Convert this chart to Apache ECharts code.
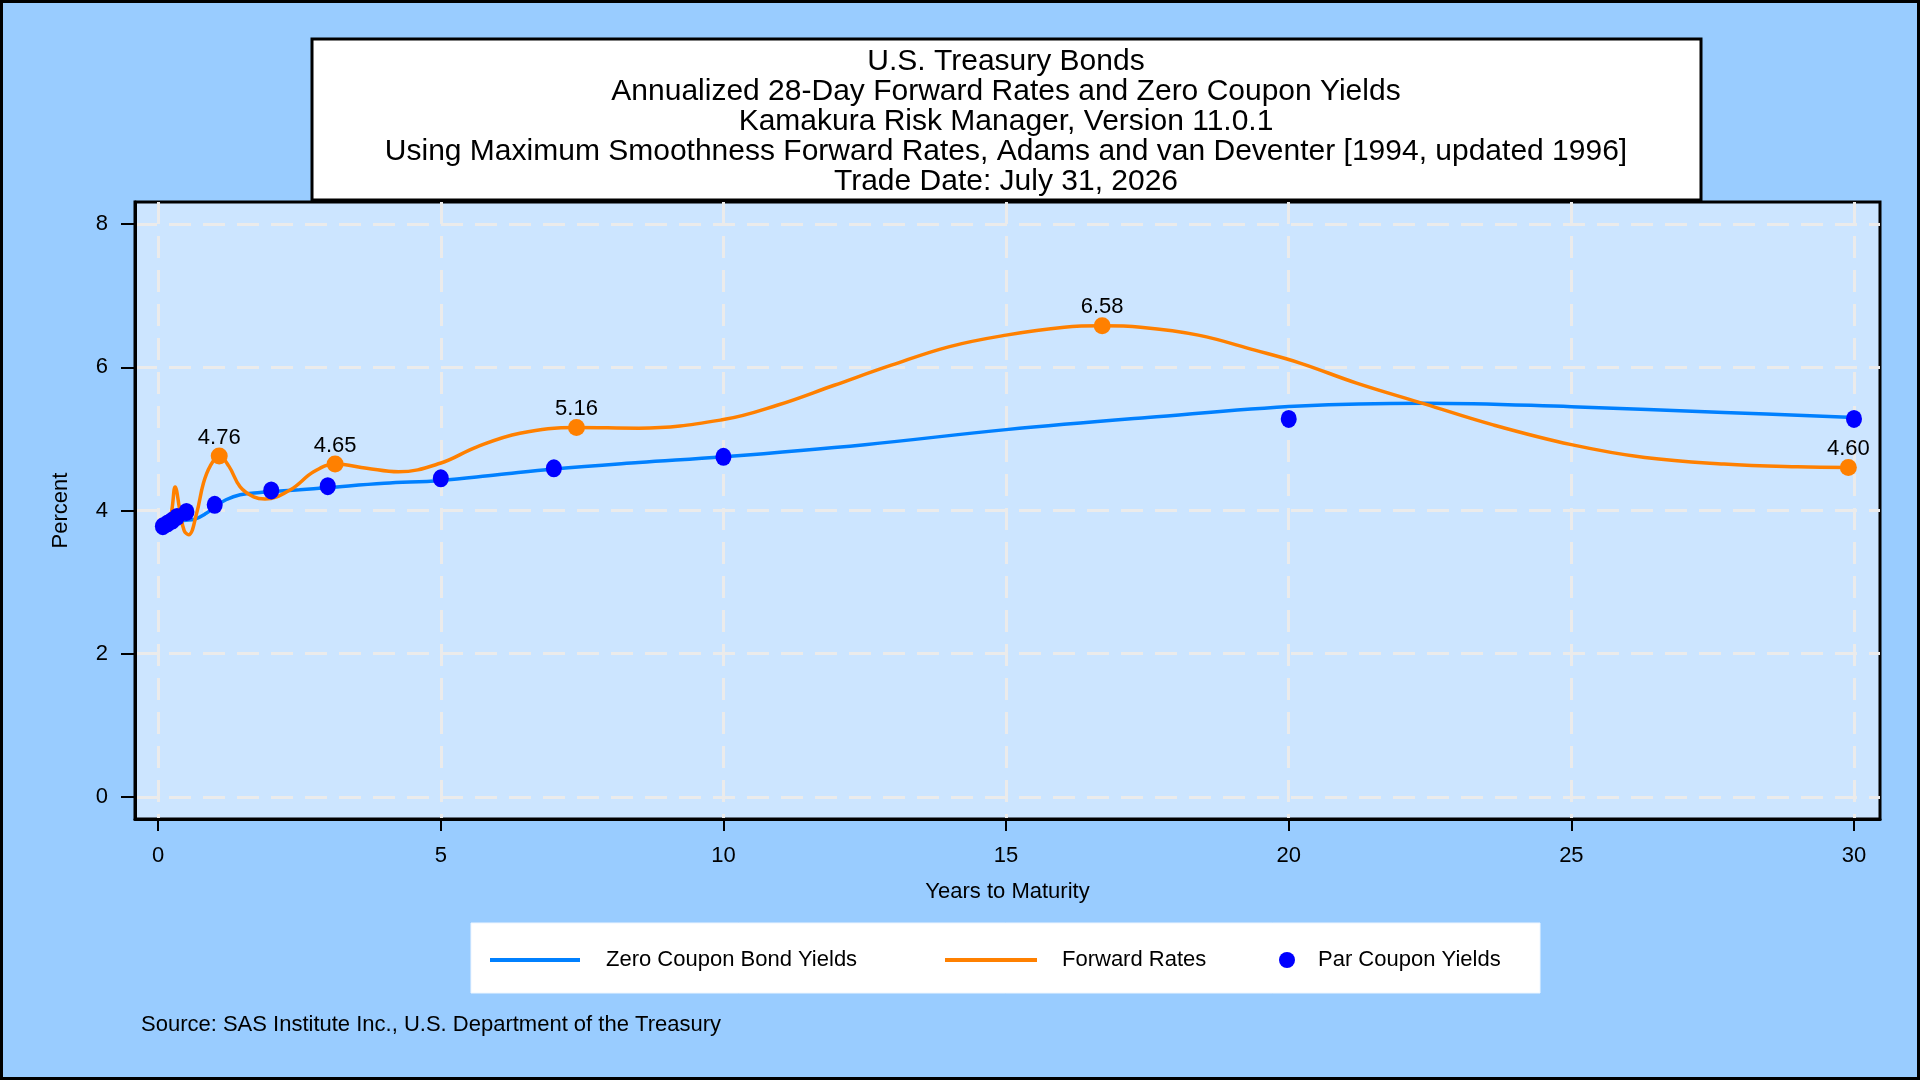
<!DOCTYPE html>
<html>
<head>
<meta charset="utf-8">
<script src="https://cdn.jsdelivr.net/npm/echarts@6/dist/echarts.min.js"></script>
<style>
  html, body { margin: 0; padding: 0; background: #99ccff; }
  #chart { width: 1920px; height: 1080px; }
</style>
</head>
<body>
<div id="chart"></div>
<script>
const titleLines = [
  'U.S. Treasury Bonds',
  'Annualized 28-Day Forward Rates and Zero Coupon Yields',
  'Kamakura Risk Manager, Version 11.0.1',
  'Using Maximum Smoothness Forward Rates, Adams and van Deventer [1994, updated 1996]',
  'Trade Date: July 31, 2026'
];
const sourceText = 'Source: SAS Institute Inc., U.S. Department of the Treasury';

const xTicks = [0, 5, 10, 15, 20, 25, 30];
const yTicks = [0, 2, 4, 6, 8];

// zero coupon bond yield curve
const zeroX = [0.083, 0.25, 0.45, 0.65, 0.85, 1.0, 1.2, 1.45, 1.8, 2.5, 3, 4, 5, 6, 7, 8.5, 10, 12.5, 15, 17.5, 20.2, 22.4, 25, 27.7, 30];
const zeroY = [3.78, 3.82, 3.86, 3.88, 3.96, 4.05, 4.15, 4.22, 4.25, 4.29, 4.32, 4.38, 4.42, 4.50, 4.58, 4.67, 4.75, 4.92, 5.13, 5.30, 5.46, 5.50, 5.45, 5.37, 5.30];

// 28-day forward rate curve
const fwdX = [0.083, 0.18, 0.24, 0.30, 0.39, 0.46, 0.54, 0.68, 0.80, 0.92, 1.08, 1.25, 1.45, 1.69, 1.89, 2.34, 2.75, 3.13, 3.69, 4.25, 4.99, 5.64, 6.4, 7.4, 8.5, 10, 10.95, 11.96, 12.97, 14.0, 15.0, 16.03, 16.7, 17.38, 18.4, 19.4, 20.2, 21.2, 22.4, 23.6, 25.0, 26.3, 27.7, 29.0, 29.9];
const fwdY = [3.80, 3.83, 4.00, 4.33, 3.97, 3.72, 3.66, 3.96, 4.38, 4.62, 4.76, 4.62, 4.33, 4.19, 4.16, 4.29, 4.54, 4.65, 4.59, 4.54, 4.66, 4.89, 5.08, 5.16, 5.15, 5.27, 5.47, 5.75, 6.03, 6.29, 6.45, 6.56, 6.58, 6.56, 6.45, 6.24, 6.06, 5.78, 5.49, 5.20, 4.92, 4.74, 4.65, 4.61, 4.60];

// par coupon yields
const parX = [0.083, 0.167, 0.25, 0.333, 0.5, 1, 2, 3, 5, 7, 10, 20, 30];
const parY = [3.78, 3.82, 3.86, 3.91, 3.98, 4.08, 4.28, 4.34, 4.45, 4.59, 4.75, 5.28, 5.28];

// labelled forward rate points
const fwdLabelX = [1.08, 3.13, 7.4, 16.7, 29.9];
const fwdLabelY = [4.76, 4.65, 5.16, 6.58, 4.60];

const zip = (xs, ys) => xs.map((x, i) => [x, ys[i]]);

const FONT = 'Liberation Sans, Arial, sans-serif';
const BLUE = '#0080ff';
const ORANGE = '#ff8000';
const DOT = '#0000ff';

const chart = echarts.init(document.getElementById('chart'));

const gridLine = {
  show: true,
  lineStyle: { color: '#ebebeb', width: 3, type: [22, 12] }
};

const option = {
  backgroundColor: '#99ccff',
  animation: false,
  textStyle: { fontFamily: FONT },
  grid: {
    left: 135, top: 202, right: 40, bottom: 261,
    show: true,
    backgroundColor: '#cce5ff',
    borderColor: '#000',
    borderWidth: 3
  },
  xAxis: {
    type: 'value',
    min: -0.41,
    max: 30.46,
    name: 'Years to Maturity',
    nameLocation: 'middle',
    nameGap: 62,
    nameTextStyle: { color: '#000', fontSize: 22, fontFamily: FONT },
    axisLine: { show: true, onZero: false, lineStyle: { color: '#000', width: 3 } },
    axisTick: { show: true, length: 12, customValues: xTicks, lineStyle: { color: '#000', width: 2 } },
    axisLabel: { customValues: xTicks, color: '#000', fontSize: 22, margin: 26, fontFamily: FONT },
    splitLine: gridLine
  },
  yAxis: {
    type: 'value',
    min: -0.31,
    max: 8.31,
    name: 'Percent',
    nameLocation: 'middle',
    nameGap: 63,
    nameTextStyle: { color: '#000', fontSize: 22, fontFamily: FONT },
    axisLine: { show: true, onZero: false, lineStyle: { color: '#000', width: 3 } },
    axisTick: { show: true, length: 14, customValues: yTicks, lineStyle: { color: '#000', width: 2 } },
    axisLabel: { customValues: yTicks, color: '#000', fontSize: 22, margin: 27, fontFamily: FONT },
    splitLine: gridLine
  },
  legend: [
    {
      left: 490, top: 949, padding: 0,
      itemWidth: 90, itemHeight: 4, icon: 'rect',
      data: ['Zero Coupon Bond Yields'],
      textStyle: { color: '#000', fontSize: 22, fontFamily: FONT, padding: [0, 0, 0, 21] },
      selectedMode: false
    },
    {
      left: 945, top: 949, padding: 0,
      itemWidth: 92, itemHeight: 4, icon: 'rect',
      data: ['Forward Rates'],
      textStyle: { color: '#000', fontSize: 22, fontFamily: FONT, padding: [0, 0, 0, 20] },
      selectedMode: false
    },
    {
      left: 1279, top: 949, padding: 0,
      itemWidth: 16, itemHeight: 18, icon: 'circle',
      data: ['Par Coupon Yields'],
      textStyle: { color: '#000', fontSize: 22, fontFamily: FONT, padding: [0, 0, 0, 18] },
      selectedMode: false
    }
  ],
  graphic: [
    {
      type: 'rect', z: 100,
      shape: { x: 312, y: 39, width: 1389, height: 161 },
      style: { fill: '#fff', stroke: '#000', lineWidth: 3 }
    },
    {
      type: 'text', z: 101,
      x: 1006, y: 46.5,
      style: {
        text: titleLines.join('\n'),
        align: 'center', verticalAlign: 'top',
        font: '30px ' + FONT, lineHeight: 30, fill: '#000'
      }
    },
    {
      type: 'rect', z: -1,
      shape: { x: 471, y: 923, width: 1069, height: 70 },
      style: { fill: '#fff', stroke: '#eef6ff', lineWidth: 1 }
    },
    {
      type: 'text',
      x: 141, y: 1024.5,
      style: { text: sourceText, font: '22px ' + FONT, fill: '#000', verticalAlign: 'middle' }
    },
    {
      type: 'rect', z: 200,
      shape: { x: 1.5, y: 1.5, width: 1917, height: 1077 },
      style: { fill: 'none', stroke: '#000', lineWidth: 3 }
    }
  ],
  series: [
    {
      name: 'Zero Coupon Bond Yields',
      type: 'line',
      data: zip(zeroX, zeroY),
      smooth: 0.4,
      showSymbol: false,
      itemStyle: { color: BLUE },
      lineStyle: { color: BLUE, width: 3.5 },
      z: 2
    },
    {
      name: 'Forward Rates',
      type: 'line',
      data: zip(fwdX, fwdY),
      smooth: 0.4,
      showSymbol: false,
      itemStyle: { color: ORANGE },
      lineStyle: { color: ORANGE, width: 3.5 },
      z: 3
    },
    {
      name: 'Par Coupon Yields',
      type: 'scatter',
      data: zip(parX, parY),
      symbol: 'circle',
      symbolSize: [16, 18],
      itemStyle: { color: DOT, opacity: 1 },
      z: 4
    },
    {
      name: 'Forward Labels',
      type: 'scatter',
      data: zip(fwdLabelX, fwdLabelY),
      symbol: 'circle',
      symbolSize: [17, 17],
      itemStyle: { color: ORANGE, opacity: 1 },
      label: {
        show: true,
        position: 'top',
        distance: -1,
        color: '#000',
        fontSize: 22,
        fontFamily: FONT,
        formatter: p => p.value[1].toFixed(2)
      },
      z: 5
    }
  ]
};

chart.setOption(option);
</script>
</body>
</html>
